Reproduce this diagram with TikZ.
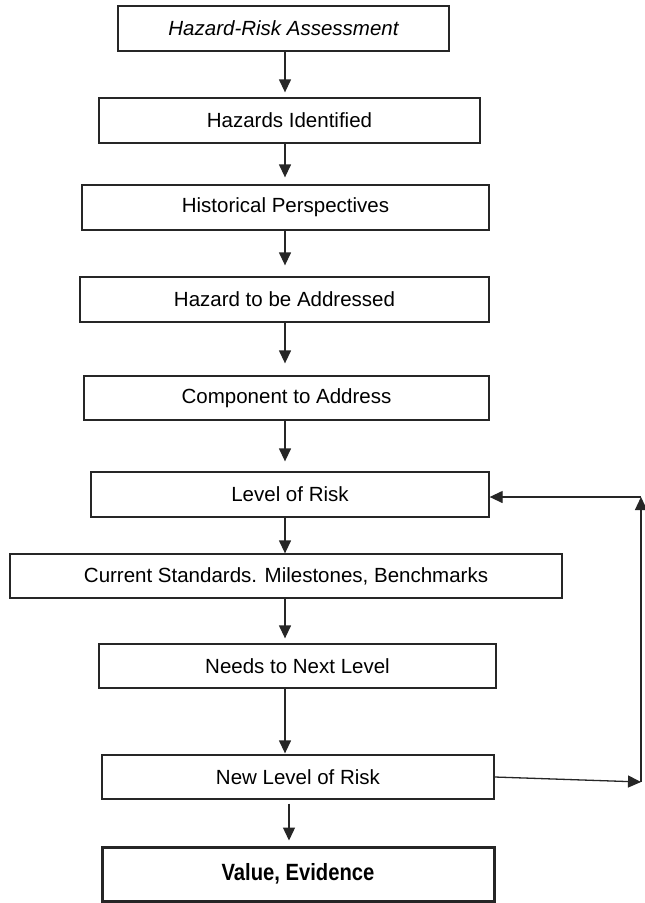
\documentclass[tikz,border=0pt]{standalone}
\usepackage{fontspec}
\setmainfont{Liberation Sans}
\usetikzlibrary{arrows.meta}
\begin{document}
\begin{tikzpicture}[x=1pt,y=-1pt,
  box/.style={draw=black!85,line width=1.3pt,inner sep=0pt,font=\fontsize{20.5}{24}\selectfont},
  arr/.style={draw=black!85,line width=1.3pt,-{Triangle[length=13pt,width=12pt]}},
  ln/.style={draw=black!85,line width=1.3pt}]
\useasboundingbox[fill=white] (0,0) rectangle (645,903);
\node[box,minimum width=331pt,minimum height=45pt] (A) at (283.5,28.5) {\itshape Hazard-Risk Assessment};
\node[box,minimum width=381pt,minimum height=45pt] (B) at (289.5,120.5) {Hazards Identified};
\node[box,minimum width=407pt,minimum height=45pt] (C) at (285.5,207.5) {Historical Perspectives};
\node[box,minimum width=409pt,minimum height=45pt] (D) at (284.5,299.5) {Hazard to be Addressed};
\node[box,minimum width=405pt,minimum height=44pt] (E) at (286.5,398) {Component to Address};
\node[box,minimum width=398pt,minimum height=45pt] (F) at (290,494.5) {Level of Risk};
\node[box,minimum width=552pt,minimum height=44pt] (G) at (286,576) {Current Standards. Milestones, Benchmarks};
\node[box,minimum width=397pt,minimum height=44pt] (H) at (297.5,666) {Needs to Next Level};
\node[box,minimum width=392pt,minimum height=44pt] (I) at (298,777) {New Level of Risk};
\node[box,line width=3pt,minimum width=392pt,minimum height=54pt] (J) at (298,874) {\scalebox{0.86}[1]{\fontsize{23.5}{26}\selectfont\bfseries Value, Evidence}};
\coordinate (ax) at (285,0);
\coordinate (bx) at (289,0);
\coordinate (c1) at (641,782);
\coordinate (c2) at (641,497);
\draw[arr,shorten >=5pt] (A.south -| ax) -- (B.north -| ax);
\draw[arr,shorten >=7pt] (B.south -| ax) -- (C.north -| ax);
\draw[arr,shorten >=11pt] (C.south -| ax) -- (D.north -| ax);
\draw[arr,shorten >=12pt] (D.south -| ax) -- (E.north -| ax);
\draw[arr,shorten >=10pt] (E.south -| ax) -- (F.north -| ax);
\draw[arr] (F.south -| ax) -- (G.north -| ax);
\draw[arr,shorten >=5pt] (G.south -| ax) -- (H.north -| ax);
\draw[arr,shorten >=1pt] (H.south -| ax) -- (I.north -| ax);
\draw[arr,shorten <=4pt,shorten >=5pt] (I.south -| bx) -- (J.north -| bx);
\draw[arr] (I.east) -- (c1);
\draw[arr] (c1) -- (c2);
\draw[arr] (c2) -- (c2 -| F.east);
\end{tikzpicture}
\end{document}
